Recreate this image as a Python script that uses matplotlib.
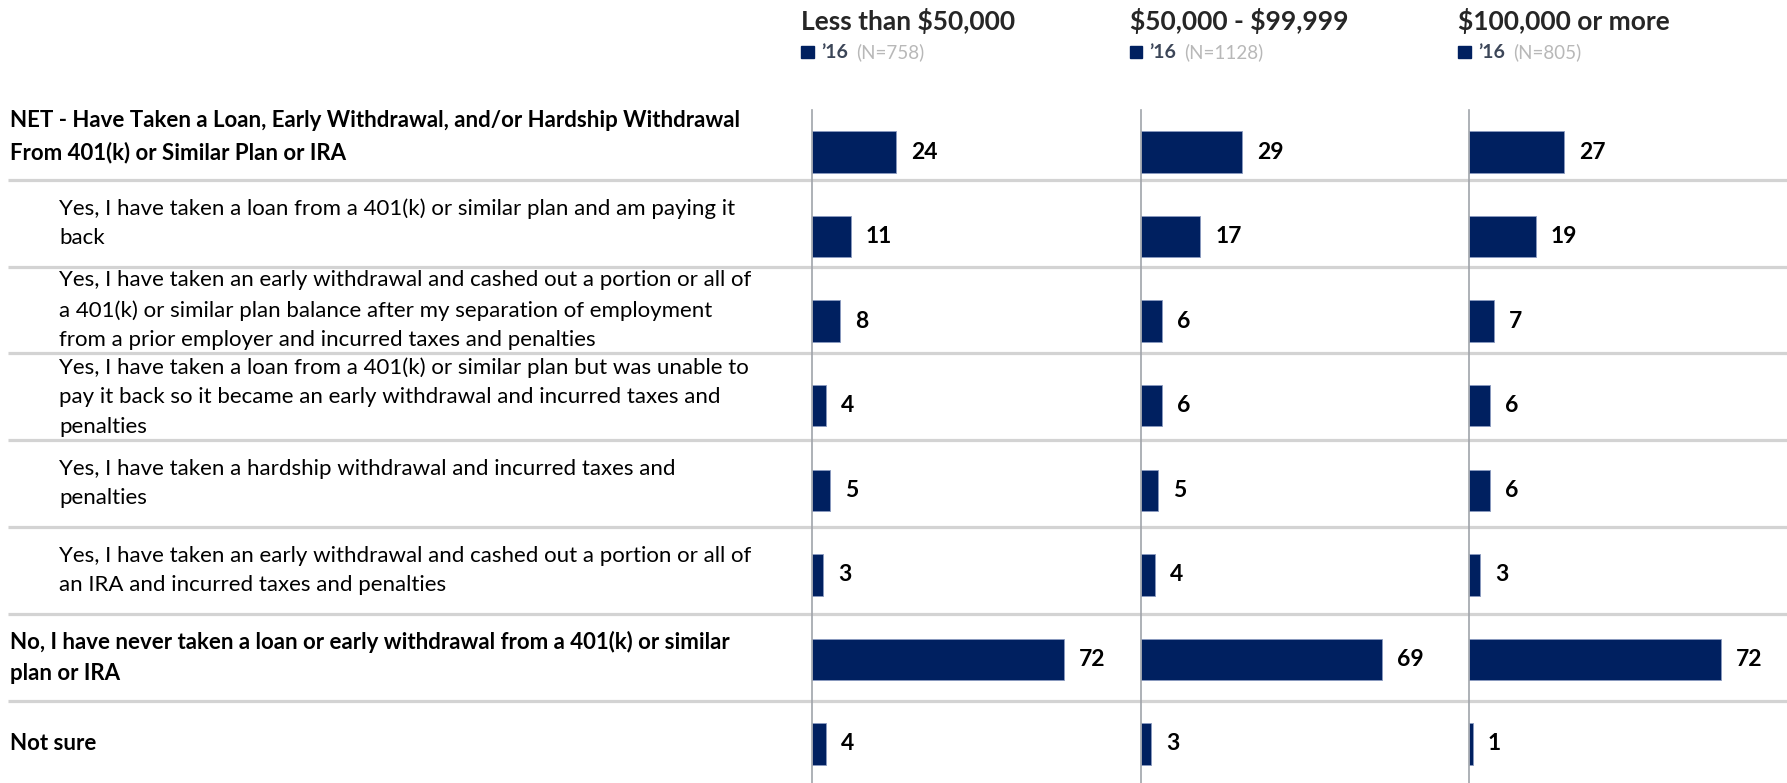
import matplotlib.pyplot as plt
from matplotlib.patches import Rectangle

plt.rcParams['font.family'] = ['Lato', 'DejaVu Sans']
plt.rcParams['text.parse_math'] = False

# data
rows = [
    'NET - Have Taken a Loan, Early Withdrawal, and/or Hardship Withdrawal\nFrom 401(k) or Similar Plan or IRA',
    'Yes, I have taken a loan from a 401(k) or similar plan and am paying it\nback',
    'Yes, I have taken an early withdrawal and cashed out a portion or all of\na 401(k) or similar plan balance after my separation of employment\nfrom a prior employer and incurred taxes and penalties',
    'Yes, I have taken a loan from a 401(k) or similar plan but was unable to\npay it back so it became an early withdrawal and incurred taxes and\npenalties',
    'Yes, I have taken a hardship withdrawal and incurred taxes and\npenalties',
    'Yes, I have taken an early withdrawal and cashed out a portion or all of\nan IRA and incurred taxes and penalties',
    'No, I have never taken a loan or early withdrawal from a 401(k) or similar\nplan or IRA',
    'Not sure',
]
bold_rows = [True, False, False, False, False, False, True, True]

groups = ['Less than $50,000', '$50,000 - $99,999', '$100,000 or more']
group_n = ['(N=758)', '(N=1128)', '(N=805)']
year_label = '\u201916'

under_50k = [24, 11, 8, 4, 5, 3, 72, 4]
from_50k_to_100k = [29, 17, 6, 6, 5, 4, 69, 3]
over_100k = [27, 19, 7, 6, 6, 3, 72, 1]
values = [under_50k, from_50k_to_100k, over_100k]

# layout (pixels)
W, H = 1787, 783
NAVY = '#002060'
row_px = 84.57          # spacing between bars
top_px, first_bar_px = 110, 152
ylo = (H - first_bar_px) / row_px
yhi = (top_px - first_bar_px) / row_px
grid_step = 1.026       # label / separator grid
panel_left = [812, 1140.5, 1469]
panel_w = 320
px_per_unit = 3.5

fig = plt.figure(figsize=(W / 100, H / 100), dpi=100)

# background axes for labels and separators, same y mapping as the bars
bg = fig.add_axes([0, 0, 1, (H - top_px) / H], zorder=0)
bg.set_xlim(0, W)
bg.set_ylim(ylo, yhi)
bg.axis('off')

for k in range(len(rows)):
    y_lab = -0.183 + grid_step * k
    indent = 10 if bold_rows[k] else 59
    bg.text(indent, y_lab, rows[k], ha='left', va='center', fontsize=16,
            fontweight='bold' if bold_rows[k] else 'normal', color='black',
            linespacing=1.6)
    if k < len(rows) - 1:
        bg.hlines(y_lab + grid_step / 2, 8, W, color='#d3d3d3', linewidth=2.3)

for j in range(3):
    ax = fig.add_axes([panel_left[j] / W, 0, panel_w / W, (H - top_px) / H], zorder=2)
    ax.patch.set_visible(False)
    ax.barh(range(len(rows)), values[j], height=0.49, color=NAVY,
            edgecolor='#8a9ac0', linewidth=0.6)
    for i, v in enumerate(values[j]):
        ax.annotate(str(v), xy=(v, i), xytext=(11, 0), textcoords='offset points',
                    va='center', ha='left', fontsize=16.5, fontweight='bold', color='black')
    ax.set_xlim(0, panel_w / px_per_unit)
    ax.set_ylim(ylo, yhi)
    for s in ['top', 'right', 'bottom']:
        ax.spines[s].set_visible(False)
    ax.spines['left'].set_color('#a0a4aa')
    ax.spines['left'].set_linewidth(1.2)
    ax.set_xticks([])
    ax.set_yticks([])

    # header
    hx = panel_left[j] - 11
    fig.text(hx / W, 1 - 21 / H, groups[j], ha='left', va='center',
             fontsize=19, fontweight='bold', color='#262626')
    fig.patches.append(Rectangle((hx / W, 1 - 58 / H), 12.5 / W, 12.5 / H,
                                 transform=fig.transFigure, color=NAVY))
    fig.text((hx + 20) / W, 1 - 52 / H, year_label, ha='left', va='center',
             fontsize=14, fontweight='bold', color='#3c4658')
    fig.text((hx + 55) / W, 1 - 52 / H, group_n[j], ha='left', va='center',
             fontsize=13.5, color='#b8b8b8')

fig.savefig('out.png', dpi=100)
